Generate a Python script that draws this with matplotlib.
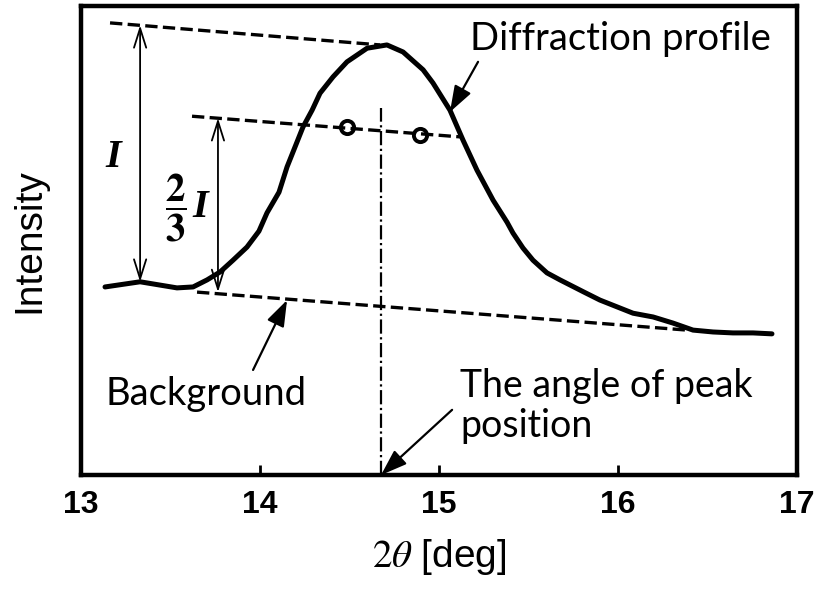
"""Diffraction profile sketch: peak position by the 2/3-intensity method."""
import numpy as np
import matplotlib
matplotlib.use("Agg")
import matplotlib.pyplot as plt

plt.rcParams.update({"mathtext.fontset": "stix", "font.family": "Liberation Sans"})

# Diffraction profile (2theta [deg], intensity [a.u.])
theta = [13.134, 13.330, 13.536, 13.626, 13.704, 13.777, 13.849, 13.927, 13.994,
         14.039, 14.106, 14.151, 14.195, 14.240, 14.291, 14.335, 14.408, 14.486,
         14.598, 14.709, 14.799, 14.911, 14.966, 15.061, 15.134, 15.212, 15.302,
         15.380, 15.413, 15.469, 15.525, 15.603, 15.676, 15.810, 15.899, 16.084,
         16.196, 16.307, 16.419, 16.531, 16.642, 16.754, 16.860]
intensity = [40.1, 41.2, 39.9, 40.1, 41.6, 43.3, 45.8, 48.6, 52.0,
             55.9, 60.3, 65.7, 69.9, 74.2, 77.8, 81.4, 84.9, 88.1,
             91.0, 91.7, 90.2, 86.4, 83.6, 77.8, 71.4, 65.0, 58.6,
             53.9, 51.6, 48.4, 45.8, 43.1, 41.6, 39.0, 37.3, 34.5,
             33.7, 32.4, 30.9, 30.5, 30.3, 30.3, 30.1]

# construction lines
bg_x, bg_y = [13.648, 16.385], [39.0, 30.9]          # background
top_x, top_y = [13.162, 14.670], [96.4, 91.7]        # peak level
two3_x, two3_y = [13.620, 15.117], [76.5, 72.1]      # 2/3 level
cross_x, cross_y = [14.486, 14.894], [74.2, 72.5]    # intersections
peak_pos = 14.674
peak_line_top = 78.3

# double arrows for I and 2/3 I
arr_I = (13.330, 41.2, 95.9)
arr_23 = (13.765, 39.0, 76.1)

xticks = [13, 14, 15, 16, 17]

fig = plt.figure(figsize=(8.21, 5.89), dpi=100)
ax = fig.add_axes([0.0987, 0.1935, 0.8721, 0.7963])

ax.plot(theta, intensity, color="black", lw=3.6, solid_capstyle="round",
        solid_joinstyle="round")
ax.plot(bg_x, bg_y, color="black", lw=2.4, ls="--")
ax.plot(top_x, top_y, color="black", lw=2.4, ls="--")
ax.plot(two3_x, two3_y, color="black", lw=2.4, ls="--")
ax.plot(cross_x, cross_y, "o", ms=9.5, mfc="none", mec="black", mew=2.8)
ax.plot([peak_pos, peak_pos], [0, peak_line_top], color="black", lw=1.6, ls="-.")

dbl = dict(arrowstyle="<->,head_length=0.7,head_width=0.22", color="black",
           lw=1.3, shrinkA=0, shrinkB=0, mutation_scale=20)
for x, y0, y1 in (arr_I, arr_23):
    ax.annotate("", xy=(x, y0), xytext=(x, y1), arrowprops=dbl)

# labels for the arrows
ax.text(13.179, 67.8, "I", fontsize=29, family="Liberation Serif",
        weight="bold", style="italic", ha="center", va="center")
ax.text(13.531, 56.9, r"$\dfrac{\mathbf{2}}{\mathbf{3}}$", fontsize=28,
        ha="center", va="center")
ax.text(13.665, 57.1, "I", fontsize=29, family="Liberation Serif",
        weight="bold", style="italic", ha="center", va="center")

one = dict(arrowstyle="-|>,head_length=0.8,head_width=0.28", color="black",
           lw=1.6, shrinkA=0, shrinkB=0, mutation_scale=20)
ax.text(15.173, 90.6, "Diffraction profile", fontsize=27.5, family="Lato",
        ha="left", va="baseline")
ax.annotate("", xy=(15.061, 77.4), xytext=(15.218, 88.1), arrowprops=one)

ax.text(13.134, 14.9, "Background", fontsize=27.5, family="Lato",
        ha="left", va="baseline")
ax.annotate("", xy=(14.151, 37.3), xytext=(13.961, 22.4), arrowprops=one)

ax.text(15.117, 16.6, "The angle of peak", fontsize=27, family="Lato",
        ha="left", va="baseline")
ax.text(15.117, 8.1, "position", fontsize=27, family="Lato",
        ha="left", va="baseline")
ax.annotate("", xy=(14.676, 0.0), xytext=(15.073, 13.9), arrowprops=one)

ax.set_xlim(13, 17)
ax.set_ylim(0, 100)
ax.set_xticks(xticks)
ax.set_xticklabels([str(t) for t in xticks], fontweight="bold")
ax.set_yticks([])
ax.tick_params(axis="x", direction="in", length=7, width=2, labelsize=23, pad=11)
for sp in ax.spines.values():
    sp.set_linewidth(3.2)

ax.set_xlabel(r"$2\theta$ [deg]", fontsize=28, labelpad=12)
ax.set_ylabel("Intensity", fontsize=28, va="center")
ax.yaxis.set_label_coords(-0.072, 0.5)

fig.savefig("out.png", dpi=100)
